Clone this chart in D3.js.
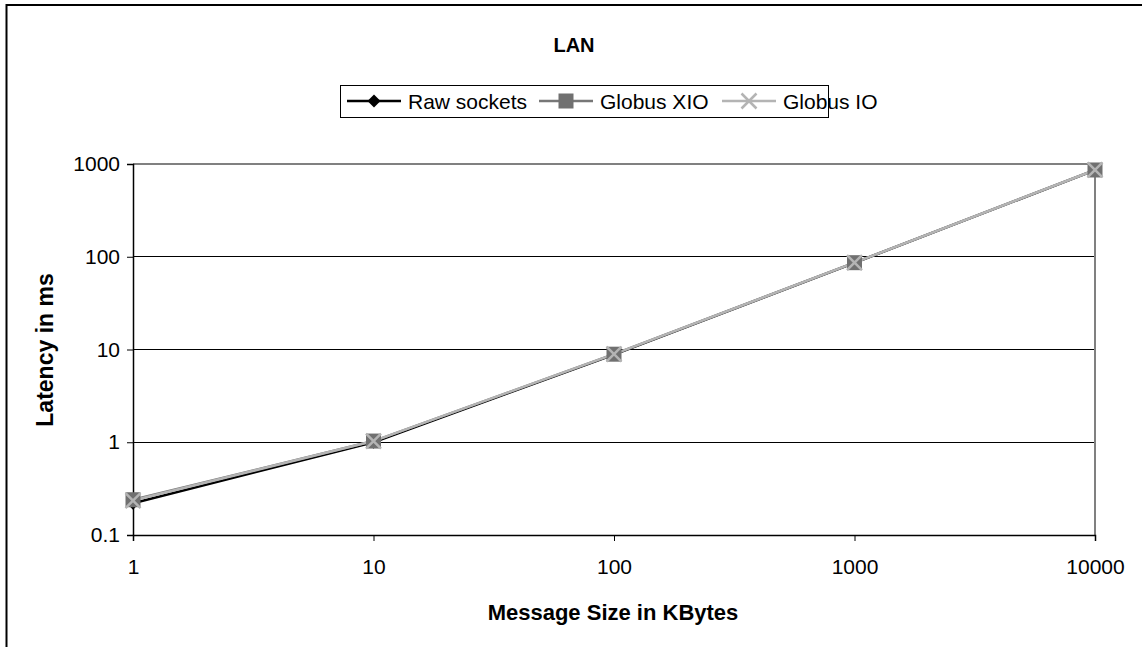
<!DOCTYPE html>
<html><head><meta charset="utf-8">
<script src="https://cdn.jsdelivr.net/npm/d3@7/dist/d3.min.js"></script>
<style>body{margin:0;background:#fff}svg{display:block;font-family:"Liberation Sans",Arial,sans-serif}</style>
</head><body>
<svg id="c" width="1142" height="647"></svg>
<script>
const sizes = [1, 10, 100, 1000, 10000];
const rawSockets = [0.22, 1.0, 8.8, 86, 860];
const globusXIO = [0.24, 1.03, 8.9, 86.3, 862];
const globusIO = [0.235, 1.03, 8.9, 86.3, 862];
const yTicks = [0.1, 1, 10, 100, 1000];
const xTicks = [1, 10, 100, 1000, 10000];
const seriesNames = ["Raw sockets", "Globus XIO", "Globus IO"];

const svg = d3.select("#c");
const L = 133, R = 1095, T = 164, B = 535;
const x = d3.scaleLog().domain([1, 10000]).range([L, R]);
const y = d3.scaleLog().domain([0.1, 1000]).range([B, T]);

// outer frame
svg.append("rect").attr("x", 6.5).attr("y", 5).attr("width", 1150).attr("height", 660)
  .attr("fill", "#fff").attr("stroke", "#000").attr("stroke-width", 2);

// title
svg.append("text").attr("x", 574).attr("y", 52).attr("text-anchor", "middle")
  .attr("font-weight", "bold").attr("font-size", 20).text("LAN");

// gridlines
svg.append("g").selectAll("line").data(yTicks.slice(1, -1)).join("line")
  .attr("x1", L).attr("x2", R).attr("y1", d => y(d)).attr("y2", d => y(d))
  .attr("stroke", "#000").attr("stroke-width", 1).attr("shape-rendering", "crispEdges");
// plot border top/right
svg.append("path").attr("d", `M${L},${y(1000)}H${R}V${B}`).attr("fill", "none")
  .attr("stroke", "#808080").attr("stroke-width", 2);

// axes
const yAxis = d3.axisLeft(y).tickValues(yTicks).tickFormat(d => String(d)).tickSize(6).tickPadding(7);
const gy = svg.append("g").attr("transform", `translate(${L},0)`).call(yAxis);
const xAxis = d3.axisBottom(x).tickValues(xTicks).tickFormat(d => String(d)).tickSize(6).tickPadding(18);
const gx = svg.append("g").attr("transform", `translate(0,${B})`).call(xAxis);
[gx, gy].forEach(g => {
  g.select(".domain").attr("stroke", "#000").attr("stroke-width", 1.5);
  g.selectAll(".tick line").attr("stroke", "#000");
  g.selectAll(".tick text").attr("font-size", 21).attr("fill", "#000")
    .attr("font-family", '"Liberation Sans",Arial,sans-serif');
});

// axis titles
svg.append("text").attr("x", 613).attr("y", 620).attr("text-anchor", "middle")
  .attr("font-weight", "bold").attr("font-size", 22).text("Message Size in KBytes");
svg.append("text").attr("transform", `translate(53,350) rotate(-90)`).attr("text-anchor", "middle")
  .attr("font-weight", "bold").attr("font-size", 23).text("Latency in ms");

const series = [
  {name: seriesNames[0], vals: rawSockets, color: "#000", mk: "diamond"},
  {name: seriesNames[1], vals: globusXIO, color: "#777", mk: "square"},
  {name: seriesNames[2], vals: globusIO, color: "#b4b4b4", mk: "x"}
];
const line = d3.line().x(d => x(d[0])).y(d => y(d[1]));

function marker(g, type, cx, cy) {
  if (type === "diamond") {
    g.append("path").attr("d", `M${cx},${cy-6.5}L${cx+6.5},${cy}L${cx},${cy+6.5}L${cx-6.5},${cy}Z`).attr("fill", "#000");
  } else if (type === "square") {
    g.append("rect").attr("x", cx-7.5).attr("y", cy-7.5).attr("width", 15).attr("height", 15).attr("fill", "#707070");
  } else {
    g.append("path").attr("d", `M${cx-7.5},${cy-7.5}L${cx+7.5},${cy+7.5}M${cx-7.5},${cy+7.5}L${cx+7.5},${cy-7.5}`)
      .attr("stroke", "#b4b4b4").attr("stroke-width", 2.5);
  }
}

series.forEach(s => {
  const pts = sizes.map((v, i) => [v, s.vals[i]]);
  svg.append("path").attr("d", line(pts)).attr("fill", "none").attr("stroke", s.color).attr("stroke-width", 2.5);
});
series.forEach(s => {
  const g = svg.append("g");
  sizes.forEach((v, i) => marker(g, s.mk, x(v), y(s.vals[i])));
});

// legend
const lg = svg.append("g");
lg.append("rect").attr("x", 340.5).attr("y", 85.5).attr("width", 488).attr("height", 32)
  .attr("fill", "#fff").attr("stroke", "#000").attr("stroke-width", 1);
const legX = [347, 539, 722];
series.forEach((s, i) => {
  const x0 = legX[i];
  lg.append("line").attr("x1", x0).attr("x2", x0 + 54).attr("y1", 101).attr("y2", 101)
    .attr("stroke", s.color).attr("stroke-width", 2.5);
  marker(lg, s.mk, x0 + 27, 101);
  lg.append("text").attr("x", x0 + 61).attr("y", 108.5).attr("font-size", 21).text(s.name);
});
</script>
</body></html>
